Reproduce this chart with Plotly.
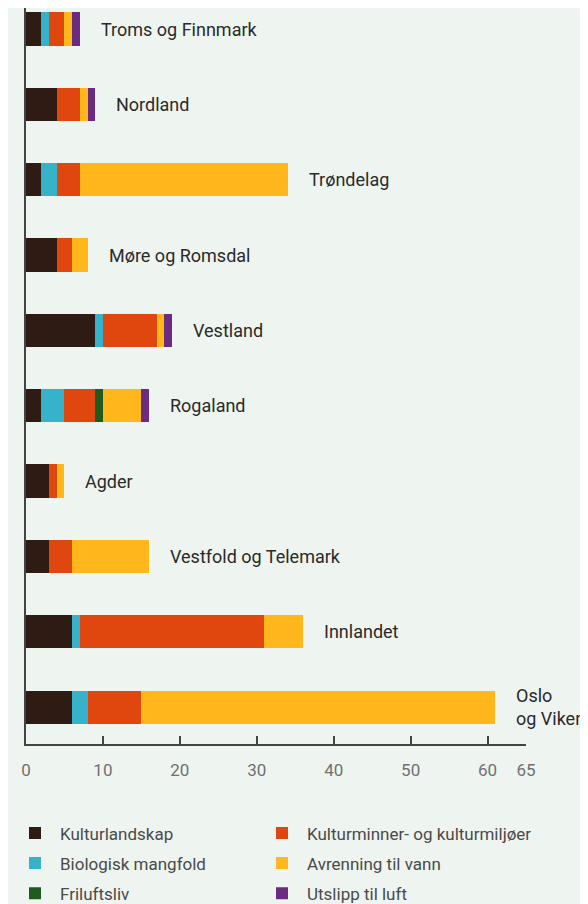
import plotly.graph_objects as go

regions = ["Troms og Finnmark", "Nordland", "Trøndelag", "Møre og Romsdal", "Vestland",
           "Rogaland", "Agder", "Vestfold og Telemark", "Innlandet", "Oslo og Viken"]
region_labels = ["Troms og Finnmark", "Nordland", "Trøndelag", "Møre og Romsdal", "Vestland",
                 "Rogaland", "Agder", "Vestfold og Telemark", "Innlandet", "Oslo<br>og Viken"]

kulturlandskap = [2, 4, 2, 4, 9, 2, 3, 3, 6, 6]
biologisk = [1, 0, 2, 0, 1, 3, 0, 0, 1, 2]
kulturminner = [2, 3, 3, 2, 7, 4, 1, 3, 24, 7]
friluftsliv = [0, 0, 0, 0, 0, 1, 0, 0, 0, 0]
avrenning = [1, 1, 27, 2, 1, 5, 1, 10, 5, 46]
utslipp = [1, 1, 0, 0, 1, 1, 0, 0, 0, 0]

tick_vals = [0, 10, 20, 30, 40, 50, 60, 65]

series = [
    ("Kulturlandskap", kulturlandskap, "#2e1c14", "legend", 1),
    ("Biologisk mangfold", biologisk, "#36b2cb", "legend", 2),
    ("Kulturminner- og kulturmiljøer", kulturminner, "#e0470f", "legend2", 1),
    ("Friluftsliv", friluftsliv, "#1f5a1f", "legend", 3),
    ("Avrenning til vann", avrenning, "#ffb71b", "legend2", 2),
    ("Utslipp til luft", utslipp, "#6a2b80", "legend2", 3),
]

fig = go.Figure()
for name, vals, color, leg, rank in series:
    fig.add_trace(go.Bar(
        y=regions, x=vals, name=name, orientation="h",
        marker=dict(color=color, line=dict(width=0)),
        width=0.44, legend=leg, legendgroup=name, legendrank=rank,
        hoverinfo="x+name",
    ))

totals = [sum(v) for v in zip(kulturlandskap, biologisk, kulturminner, friluftsliv, avrenning, utslipp)]
for reg, lab, tot in zip(regions, region_labels, totals):
    fig.add_annotation(x=tot, y=reg, text=lab, showarrow=False, xanchor="left",
                       yanchor="middle", xshift=19, align="left",
                       font=dict(size=18, color="#2a2a2a", family="Roboto"))

bg = "#eef4f0"
leg_common = dict(yanchor="top", xanchor="left", orientation="v", tracegroupgap=5,
                  itemwidth=40, font=dict(size=17, color="#4a4a4a"),
                  bgcolor="rgba(0,0,0,0)", itemclick=False)
fig.update_layout(
    barmode="stack",
    width=588, height=904,
    margin=dict(l=18, r=70, t=0, b=168, autoexpand=False),
    paper_bgcolor=bg, plot_bgcolor=bg,
    font=dict(family="Roboto", color="#333"),
    legend=dict(x=-0.032, y=-0.097, **leg_common),
    legend2=dict(x=0.462, y=-0.097, **leg_common),
    xaxis=dict(range=[0, 65], tickvals=tick_vals, ticks="inside", ticklen=8, tickwidth=1.5,
               tickcolor="#444", showline=True, linecolor="#444", linewidth=1.5,
               showgrid=False, zeroline=False, tickfont=dict(size=17, color="#707070"),
               ticklabelstandoff=10),
    yaxis=dict(categoryorder="array", categoryarray=regions, range=[9.49, -0.279],
               showticklabels=False, ticks="", showline=True, linecolor="#444", linewidth=1.5,
               showgrid=False, zeroline=False),
)

fig.write_html("out.html")
